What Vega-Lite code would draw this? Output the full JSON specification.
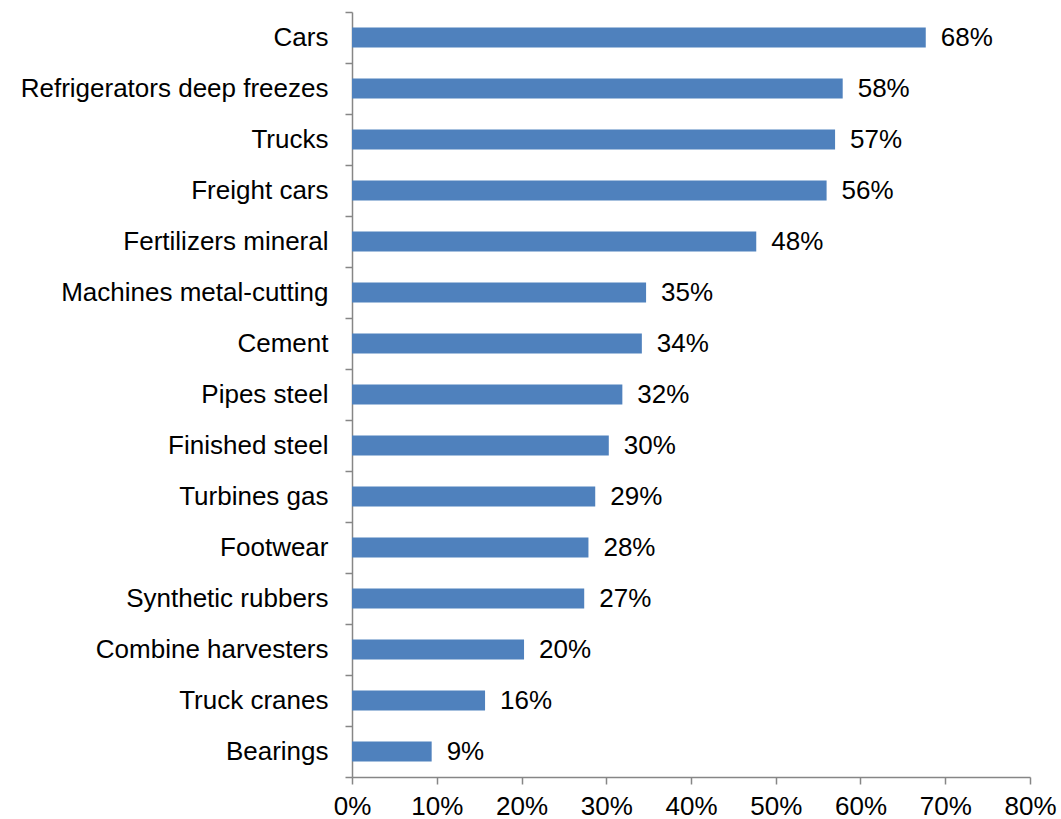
{
  "$schema": "https://vega.github.io/schema/vega-lite/v6.json",
  "width": 678,
  "height": 765,
  "autosize": "none",
  "padding": {"left": 352, "top": 12, "right": 31, "bottom": 42},
  "background": "white",
  "config": {
    "view": {"stroke": null},
    "font": "Liberation Sans",
    "axis": {"grid": false, "domainColor": "#868686", "tickColor": "#868686", "labelColor": "#000000", "labelFont": "Liberation Sans", "labelFontSize": 26, "tickSize": 7, "domainWidth": 1.5, "tickWidth": 1.5, "labelLimit": 0}
  },
  "data": {
    "values": [
      {"category": "Cars", "value": 0.677},
      {"category": "Refrigerators deep freezes", "value": 0.579},
      {"category": "Trucks", "value": 0.570},
      {"category": "Freight cars", "value": 0.560},
      {"category": "Fertilizers mineral", "value": 0.477},
      {"category": "Machines metal-cutting", "value": 0.347},
      {"category": "Cement", "value": 0.342},
      {"category": "Pipes steel", "value": 0.319},
      {"category": "Finished steel", "value": 0.303},
      {"category": "Turbines gas", "value": 0.287},
      {"category": "Footwear", "value": 0.279},
      {"category": "Synthetic rubbers", "value": 0.274},
      {"category": "Combine harvesters", "value": 0.203},
      {"category": "Truck cranes", "value": 0.157},
      {"category": "Bearings", "value": 0.094}
    ]
  },
  "encoding": {
    "y": {
      "field": "category", "type": "nominal", "sort": null,
      "scale": {"paddingInner": 0, "paddingOuter": 0},
      "axis": {"title": null, "tickBand": "extent", "labelPadding": 17}
    },
    "x": {
      "field": "value", "type": "quantitative",
      "scale": {"domain": [0, 0.8], "nice": false},
      "axis": {"title": null, "format": ".0%", "values": [0, 0.1, 0.2, 0.3, 0.4, 0.5, 0.6, 0.7, 0.8], "labelPadding": 9, "labelFlush": false}
    }
  },
  "layer": [
    {"mark": {"type": "bar", "color": "#4F81BD", "height": {"band": 0.39}}},
    {
      "mark": {"type": "text", "align": "left", "baseline": "middle", "dx": 15, "fontSize": 26, "font": "Liberation Sans", "color": "#000000"},
      "encoding": {"text": {"field": "value", "type": "quantitative", "format": ".0%"}}
    }
  ]
}
